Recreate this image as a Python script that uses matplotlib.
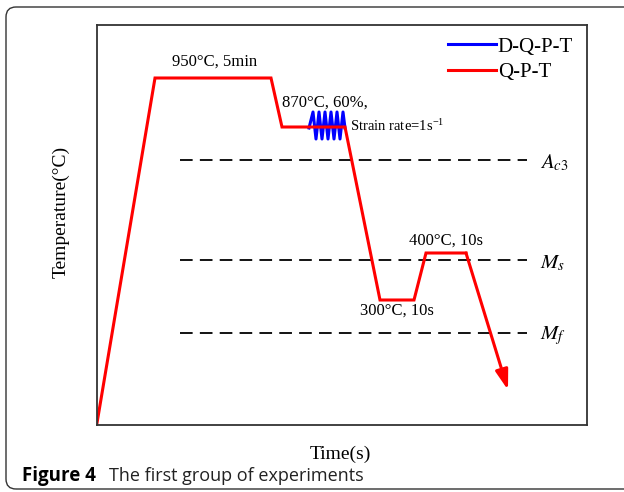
import matplotlib
matplotlib.use("Agg")
import matplotlib.pyplot as plt
from matplotlib.lines import Line2D
from matplotlib.patches import FancyBboxPatch

# schematic heat-treatment route (time, temperature in arbitrary chart units)
route_t = [0, 58, 174, 185, 248, 283, 317, 329, 369]
route_T = [2, 347, 347, 298, 298, 125, 125, 172, 172]
arrow_end = (411, 35)

# deformation oscillation at 870C (peaks / troughs)
osc_t = [212, 216, 219, 222, 225, 228, 231, 234, 237, 240, 243, 246, 248]
osc_T = [297, 313, 286, 313, 286, 313, 286, 313, 286, 313, 286, 313, 297]

# critical temperatures (dashed levels)
crit_names = [r"$A_{c3}$", r"$M_s$", r"$M_f$"]
crit_T = [265, 165, 92]
crit_span = (83, 430)

notes = ["950°C, 5min", "870°C, 60%,", "400°C, 10s", "300°C, 10s"]
notes_t = [118, 228, 349, 300]
notes_T = [363, 322, 184, 114]

plt.rcParams["font.family"] = ["Liberation Serif", "DejaVu Serif"]
plt.rcParams["mathtext.fontset"] = "stix"

fig = plt.figure(figsize=(6.24, 4.92), dpi=100)
ax = fig.add_axes([97 / 624, 1 - 425 / 492, 490 / 624, 400 / 492])
ax.set_xlim(0, 490)
ax.set_ylim(0, 400)
ax.set_xticks([])
ax.set_yticks([])
for s in ax.spines.values():
    s.set_color("#333333")
    s.set_linewidth(1.3)

red = "#ff0000"
blue = "#0000ff"

for T in crit_T:
    ax.plot(crit_span, [T, T], color="black", lw=1.3, dashes=(7, 4))
for name, T in zip(crit_names, crit_T):
    ax.text(crit_span[1] + 13, T - 3, name, fontsize=15, va="center", ha="left")

ax.plot(osc_t, osc_T, color=blue, lw=2.2, solid_joinstyle="round")
ax.plot(route_t, route_T, color=red, lw=2.2, solid_joinstyle="miter")
ax.annotate("", xy=arrow_end, xytext=(route_t[-1], route_T[-1]),
            arrowprops=dict(arrowstyle="-|>,head_length=1.2,head_width=0.38",
                            color=red, lw=2.2, shrinkA=0, shrinkB=0))

for txt, t, T in zip(notes, notes_t, notes_T):
    ax.text(t, T, txt, fontsize=12, ha="center", va="center")
ax.text(253, 299, r"Strain rate=1s$^{\mathregular{-1}}$", fontsize=10.5,
        ha="left", va="center")

handles = [Line2D([], [], color=blue, lw=2.2), Line2D([], [], color=red, lw=2.2)]
ax.legend(handles, ["D-Q-P-T", "Q-P-T"], loc="upper right",
          bbox_to_anchor=(476 / 490, 388 / 400), frameon=False, fontsize=15,
          handlelength=2.3, handletextpad=0.1, labelspacing=0.28,
          borderaxespad=0, borderpad=0)

ax.text(243 / 490, -29 / 400, "Time(s)", fontsize=14, ha="center",
        va="center", transform=ax.transAxes)
ax.text(-36 / 490, 213 / 400, "Temperature(°C)", fontsize=14, ha="center",
        va="center", rotation=90, transform=ax.transAxes)

fig.patches.append(FancyBboxPatch((6, 3), 700, 482,
                                  boxstyle="round,pad=0,rounding_size=10",
                                  transform=None, fill=False,
                                  ec="#333333", lw=1.0))
fig.text(22 / 624, 1 - 476 / 492, "Figure 4", fontsize=13.5, fontweight="bold",
         family=["Open Sans", "DejaVu Sans"], va="center")
fig.text(109 / 624, 1 - 476 / 492, "The first group of experiments",
         fontsize=13, family=["Open Sans", "DejaVu Sans"], va="center",
         color="#222222")

fig.savefig("out.png", dpi=100)
